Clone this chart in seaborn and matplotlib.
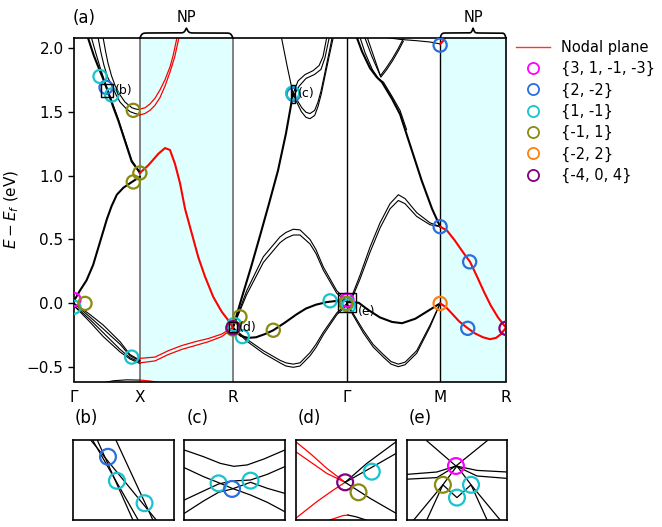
import numpy as np
import matplotlib
matplotlib.use('Agg')
import matplotlib.pyplot as plt
import seaborn as sns
from matplotlib.patches import Rectangle
from matplotlib.lines import Line2D

# ---------------- high-symmetry path ----------------
k_ticks = [0.0, 1.0, 2.414, 4.146, 5.560, 6.560]
k_labels = ['Γ', 'X', 'R', 'Γ', 'M', 'R']
np_regions = [(1.0, 2.414), (5.560, 6.560)]

# ---------------- bands (k, E) ----------------
# Gamma - X (black)
A_k = [0, 0.09, 0.19, 0.29, 0.395, 0.50, 0.57, 0.65, 0.75, 0.88, 1.0]
A_E = [0.02, 0.10, 0.18, 0.30, 0.48, 0.66, 0.76, 0.85, 0.905, 0.95, 0.99]
B1_k = [0.217, 0.30, 0.369, 0.44, 0.506, 0.60, 0.673, 0.749, 0.876, 0.976, 1.0]
B1_E = [2.07, 1.94, 1.85, 1.76, 1.67, 1.53, 1.43, 1.31, 1.11, 1.04, 1.02]
B2_k = [0.269, 0.33, 0.40, 0.47, 0.53, 0.60, 0.673, 0.749, 0.876, 0.976, 1.0]
B2_E = [2.07, 1.96, 1.84, 1.73, 1.645, 1.545, 1.44, 1.32, 1.12, 1.045, 1.025]
C1_k = [0.445, 0.48, 0.516, 0.57, 0.623, 0.70, 0.774, 0.881, 0.94, 1.0]
C1_E = [2.07, 1.97, 1.88, 1.78, 1.705, 1.63, 1.575, 1.53, 1.52, 1.515]
C2_k = [0.369, 0.41, 0.456, 0.51, 0.573, 0.64, 0.699, 0.78, 0.85, 0.93, 1.0]
C2_E = [2.07, 1.96, 1.86, 1.77, 1.705, 1.63, 1.575, 1.53, 1.50, 1.485, 1.475]
D_k = [0, 0.09, 0.25, 0.445, 0.70, 0.85, 1.0]
D1a_E = [0.0, -0.03, -0.09, -0.17, -0.30, -0.40, -0.445]
D1b_E = [0.0, -0.04, -0.11, -0.20, -0.32, -0.41, -0.45]
D2a_E = [-0.02, -0.055, -0.13, -0.23, -0.36, -0.425, -0.46]
D2b_E = [-0.02, -0.065, -0.15, -0.26, -0.38, -0.435, -0.47]
F_k = [0.4, 0.6, 0.8, 1.0]
F_E = [-0.625, -0.605, -0.598, -0.60]

# X - R (nodal plane, red)
Fr_k = [1.0, 1.15, 1.3]
Fr_E = [-0.60, -0.607, -0.62]
R1_k = [1.0, 1.078, 1.154, 1.230, 1.306, 1.382, 1.458, 1.508, 1.560]
R1a_E = [1.52, 1.53, 1.56, 1.605, 1.67, 1.75, 1.85, 1.945, 2.07]
R1b_k = [1.0, 1.078, 1.154, 1.230, 1.306, 1.382, 1.458, 1.53, 1.59]
R1b_E = [1.475, 1.485, 1.51, 1.55, 1.61, 1.70, 1.81, 1.93, 2.07]
R2_k = [1.0, 1.128, 1.280, 1.382, 1.458, 1.534, 1.610, 1.686, 1.787, 1.888,
        1.989, 2.115, 2.243, 2.369, 2.414]
R2_E = [1.02, 1.08, 1.17, 1.215, 1.20, 1.09, 0.94, 0.74, 0.55, 0.36,
        0.21, 0.05, -0.065, -0.15, -0.19]
R3_k = [1.0, 1.230, 1.432, 1.636, 1.838, 2.040, 2.243, 2.369, 2.414]
R3a_E = [-0.43, -0.42, -0.37, -0.33, -0.30, -0.275, -0.24, -0.20, -0.19]
R3b_E = [-0.465, -0.45, -0.40, -0.36, -0.33, -0.30, -0.26, -0.21, -0.19]

# R - Gamma (black)
G1_k = [2.414, 2.551, 2.692, 2.825, 2.961, 3.098, 3.219, 3.326]
G1_E = [-0.19, 0.05, 0.29, 0.53, 0.78, 1.04, 1.33, 1.64]
G1u_k = [3.326, 3.402, 3.508, 3.629, 3.721, 3.781, 3.834]
G1u_E = [1.64, 1.74, 1.79, 1.82, 1.86, 1.93, 2.07]
G1v_k = [3.33, 3.42, 3.523, 3.65, 3.75, 3.81, 3.872]
G1v_E = [1.62, 1.70, 1.76, 1.79, 1.83, 1.92, 2.07]
G2_k = [3.154, 3.235, 3.326, 3.386, 3.452, 3.523, 3.584, 3.655, 3.705, 3.756,
        3.812, 3.857, 3.903, 3.933]
G2_E = [2.07, 1.86, 1.64, 1.57, 1.50, 1.455, 1.445, 1.47, 1.54, 1.64,
        1.78, 1.89, 2.0, 2.07]
G2v_k = [3.34, 3.40, 3.46, 3.523, 3.584, 3.655, 3.705, 3.75, 3.80, 3.84, 3.885, 3.915]
G2v_E = [1.64, 1.58, 1.53, 1.495, 1.485, 1.51, 1.575, 1.66, 1.78, 1.88, 1.99, 2.07]
G3_k = [2.414, 2.475, 2.536, 2.642, 2.764, 2.900, 3.027, 3.204, 3.382, 3.523,
        3.675, 3.837, 3.994, 4.146]
G3_E = [-0.19, -0.23, -0.255, -0.27, -0.265, -0.24, -0.21, -0.15, -0.085, -0.04,
        -0.01, 0.01, 0.02, 0.02]
G45_k = [2.414, 2.623, 2.875, 3.128, 3.219, 3.330, 3.432, 3.584, 3.675, 3.786, 3.989, 4.146]
G4a_E = [-0.19, -0.28, -0.37, -0.445, -0.465, -0.475, -0.465, -0.385, -0.32, -0.225, -0.075, 0.0]
G4b_E = [-0.19, -0.295, -0.39, -0.465, -0.49, -0.50, -0.49, -0.41, -0.345, -0.245, -0.09, -0.01]
G5a_E = [-0.19, 0.10, 0.365, 0.52, 0.555, 0.58, 0.575, 0.50, 0.42, 0.285, 0.10, 0.02]
G5b_E = [-0.19, 0.07, 0.32, 0.475, 0.51, 0.535, 0.535, 0.465, 0.39, 0.26, 0.08, 0.01]

# Gamma - M (black)
M1_k = [4.146, 4.393, 4.541, 4.697, 4.814, 4.925, 5.027, 5.204, 5.406, 5.560]
M1a_E = [0.0, -0.21, -0.32, -0.40, -0.455, -0.475, -0.46, -0.37, -0.17, 0.0]
M1b_E = [-0.01, -0.23, -0.34, -0.42, -0.475, -0.495, -0.48, -0.39, -0.185, 0.0]
M2_k = [4.146, 4.323, 4.465, 4.647, 4.829, 4.981, 5.183, 5.387, 5.560]
M2_E = [0.01, 0.005, -0.05, -0.11, -0.145, -0.155, -0.12, -0.055, 0.0]
M3_k = [4.146, 4.222, 4.343, 4.495, 4.647, 4.799, 4.925, 5.027, 5.204, 5.406, 5.560]
M3a_E = [0.02, 0.06, 0.22, 0.44, 0.63, 0.78, 0.85, 0.82, 0.71, 0.63, 0.60]
M3b_E = [0.0, 0.04, 0.19, 0.40, 0.59, 0.74, 0.805, 0.78, 0.68, 0.615, 0.60]
P_k = [4.302, 4.374, 4.495, 4.597, 4.677, 4.829, 4.951, 5.103, 5.280, 5.437, 5.560]
P_E = [2.07, 1.97, 1.84, 1.77, 1.73, 1.60, 1.48, 1.24, 0.96, 0.74, 0.60]
P2_k = [4.35, 4.42, 4.53, 4.62, 4.70, 4.829, 4.951, 5.05]
P2_E = [2.07, 1.96, 1.83, 1.76, 1.73, 1.62, 1.51, 1.36]
Q_k = [4.423, 4.525, 4.652, 4.738, 4.829, 4.92, 5.0]
Q_E = [2.07, 1.93, 1.78, 1.84, 1.91, 1.99, 2.07]
Q2_k = [4.46, 4.56, 4.66, 4.75, 4.84, 4.93, 5.0]
Q2_E = [2.07, 1.92, 1.77, 1.83, 1.90, 1.98, 2.05]
S_k = [4.75, 4.95, 5.2, 5.4, 5.56]
S_E = [2.08, 2.065, 2.055, 2.045, 2.03]

# M - R (nodal plane, red)
N1_k = [5.560, 5.664, 5.786, 5.907, 6.014, 6.120, 6.226, 6.332, 6.439, 6.560]
N1_E = [0.60, 0.57, 0.49, 0.40, 0.325, 0.21, 0.09, -0.02, -0.11, -0.19]
N2_k = [5.560, 5.649, 5.740, 5.847, 5.968, 6.090, 6.211, 6.317, 6.408, 6.484, 6.560]
N2_E = [0.0, -0.03, -0.08, -0.14, -0.19, -0.235, -0.265, -0.28, -0.27, -0.24, -0.19]
N3_k = [5.56, 5.60, 5.65]
N3_E = [2.03, 2.05, 2.09]

black_thin = [(D_k, D1a_E), (D_k, D1b_E), (D_k, D2a_E), (D_k, D2b_E),
              (C1_k, C1_E), (C2_k, C2_E), (B2_k, B2_E),
              (G1u_k, G1u_E), (G1v_k, G1v_E), (G2_k, G2_E), (G2v_k, G2v_E),
              (G45_k, G4a_E), (G45_k, G4b_E), (G45_k, G5a_E), (G45_k, G5b_E),
              (M1_k, M1a_E), (M1_k, M1b_E), (M3_k, M3a_E), (M3_k, M3b_E),
              (P2_k, P2_E), (Q_k, Q_E), (Q2_k, Q2_E), (S_k, S_E), (F_k, F_E)]
black_thick = [(A_k, A_E), (B1_k, B1_E), (G1_k, G1_E), (G3_k, G3_E),
               (M2_k, M2_E), (P_k, P_E)]
red_thin = [(R1_k, R1a_E), (R1b_k, R1b_E), (R3_k, R3a_E), (R3_k, R3b_E), (Fr_k, Fr_E)]
red_thick = [(R2_k, R2_E), (N1_k, N1_E), (N2_k, N2_E), (N3_k, N3_E)]

# ---------------- monopole-charge circles ----------------
charge_labels = ['{3, 1, -1, -3}', '{2, -2}', '{1, -1}', '{-1, 1}', '{-2, 2}', '{-4, 0, 4}']
charge_colors = ['magenta', '#2b6fdc', '#17c3cf', '#8a8a10', '#ff7f0e', '#800080']
pts_k = [
    [0.0, 4.146],
    [0.486, 3.33, 5.560, 5.560, 6.008, 5.979],
    [0.0, 0.395, 0.573, 0.876, 2.435, 2.556, 3.32, 3.888, 4.146, 4.17],
    [0.167, 0.90, 1.0, 0.90, 2.52, 2.414, 3.026, 4.13],
    [5.560],
    [2.414, 6.560],
]
pts_E = [
    [0.03, 0.025],
    [1.69, 1.635, 0.60, 2.02, 0.325, -0.195],
    [-0.03, 1.775, 1.63, -0.42, -0.165, -0.26, 1.645, 0.02, 0.0, -0.02],
    [0.0, 0.95, 1.02, 1.51, -0.105, -0.20, -0.21, 0.0],
    [0.0],
    [-0.19, -0.195],
]

# zoom boxes (center k, center E, width, height) and label heights
box_names = ['(b)', '(c)', '(d)', '(e)']
box_k = [0.506, 3.326, 2.419, 4.146]
box_E = [1.665, 1.64, -0.185, 0.006]
box_w = [0.18, 0.075, 0.12, 0.28]
box_h = [0.095, 0.14, 0.078, 0.143]
box_label_E = [1.665, 1.64, -0.185, -0.065]

# ---------------- inset data (local coordinates) ----------------
inset_b_lines = [([0.199, 0.649], [0.99, 0.0]), ([0.245, 0.596], [0.99, 0.0]),
                 ([0.182, 0.828], [0.99, 0.0]), ([0.430, 0.795], [0.99, 0.0])]
inset_b_pts = [(0.348, 0.79, 1), (0.437, 0.49, 2), (0.712, 0.21, 2)]

c_x = [0, 0.191, 0.341, 0.475, 0.659, 0.826, 1]
inset_c_lines = [([0, 0.19, 0.358, 0.492, 0.625, 0.793, 1], [0.875, 0.792, 0.708, 0.671, 0.688, 0.763, 0.875]),
                 (c_x, [0.654, 0.542, 0.467, 0.396, 0.3125, 0.221, 0.104]),
                 (c_x, [0.25, 0.3625, 0.45, 0.4875, 0.50, 0.571, 0.667]),
                 (c_x, [0.083, 0.2375, 0.346, 0.3875, 0.471, 0.396, 0.333])]
inset_c_pts = [(0.341, 0.458, 2), (0.475, 0.388, 1), (0.659, 0.492, 2)]

inset_d_red = [([0, 0.143, 0.309, 0.492], [0.979, 0.833, 0.646, 0.471]),
               ([0, 0.143, 0.309, 0.492], [0.854, 0.729, 0.583, 0.471]),
               ([0, 0.21, 0.375, 0.492], [0.021, 0.229, 0.375, 0.471]),
               ([0.34, 0.47, 0.52], [0.0, 0.055, 0.062])]
inset_d_black = [([0.492, 0.708, 1], [0.471, 0.708, 0.979]),
                 ([0.492, 0.74, 1], [0.471, 0.646, 0.833]),
                 ([0.492, 0.74, 1], [0.471, 0.271, 0.083]),
                 ([0.52, 0.6, 0.70], [0.062, 0.04, 0.0])]
inset_d_pts = [(0.492, 0.471, 5), (0.625, 0.346, 3), (0.757, 0.604, 2)]

inset_e_lines = [([0.2, 0.49, 0.8], [0.99, 0.675, 0.99]),
                 ([0.0, 0.3, 0.49, 0.7, 1.0], [0.57, 0.6, 0.675, 0.62, 0.60]),
                 ([0.0, 0.3, 0.49, 0.7, 1.0], [0.51, 0.53, 0.675, 0.55, 0.52]),
                 ([0.07, 0.36, 0.5, 0.64, 0.93], [0.0, 0.44, 0.675, 0.44, 0.0]),
                 ([0.2, 0.36, 0.5, 0.64, 0.8], [0.0, 0.44, 0.28, 0.44, 0.0])]
inset_e_pts = [(0.49, 0.675, 0), (0.36, 0.44, 3), (0.5, 0.28, 2), (0.64, 0.44, 2)]

# ---------------- figure ----------------
W, H = 662, 527
fig = plt.figure(figsize=(W / 100, H / 100), dpi=100)
ax = fig.add_axes([74 / W, 1 - 381.5 / H, 432 / W, 343.5 / H])

for (a, b) in np_regions:
    ax.axvspan(a, b, facecolor='#e0ffff', edgecolor='none', zorder=0)
for kt in k_ticks[1:-1]:
    c = 'gray' if kt in (1.0, 2.414) else 'black'
    ax.axvline(kt, color=c, lw=1.4 if c == 'gray' else 1.0, zorder=1)


def draw(axx, k, e, color, lw):
    sns.lineplot(x=k, y=e, ax=axx, color=color, lw=lw, sort=False,
                 estimator=None, legend=False, zorder=2)


for k, e in black_thin:
    draw(ax, k, e, 'black', 0.8)
for k, e in black_thick:
    draw(ax, k, e, 'black', 1.5)
for k, e in red_thin:
    draw(ax, k, e, 'red', 0.9)
for k, e in red_thick:
    draw(ax, k, e, 'red', 1.5)

for lab, c, kk, ee in zip(charge_labels, charge_colors, pts_k, pts_E):
    sns.scatterplot(x=kk, y=ee, ax=ax, marker='o', s=90, color=c,
                    facecolor='none', edgecolor=c, linewidth=1.6, zorder=5,
                    legend=False)

for nm, bk, be, bw, bh, le in zip(box_names, box_k, box_E, box_w, box_h, box_label_E):
    ax.add_patch(Rectangle((bk - bw / 2, be - bh / 2), bw, bh, fill=False,
                           ec='black', lw=1.0, zorder=6))
    ax.text(bk + bw / 2 + 0.03, le, nm, fontsize=9, va='center', ha='left', zorder=7)

ax.set_xlim(0, 6.560)
ax.set_ylim(-0.611, 2.076)
ax.set_xticks(k_ticks)
ax.set_xticklabels(k_labels, fontsize=11)
ax.tick_params(axis='x', length=0, pad=6)
ax.set_yticks([-0.5, 0.0, 0.5, 1.0, 1.5, 2.0])
ax.tick_params(axis='y', labelsize=11, length=4, width=1)
ax.set_ylabel('$E - E_f$ (eV)', fontsize=11, labelpad=4)
for sp in ax.spines.values():
    sp.set_linewidth(1.2)
ax.set_xlabel('')

# braces
trans = ax.get_xaxis_transform()
px_y = 1 / 343.5
for (a, b) in np_regions:
    kk = np.linspace(a, b, 400)
    beta = 60.0 / (b - a) * 1.4
    mid = 0.5 * (a + b)
    left = kk <= mid
    yy = np.where(left,
                  1 / (1 + np.exp(-beta * (kk - a))) + 1 / (1 + np.exp(-beta * (kk - mid))),
                  1 / (1 + np.exp(-beta * (b - kk))) + 1 / (1 + np.exp(-beta * (mid - kk))))
    yy = 1.0 + (yy - 0.5) * 10 * px_y
    ax.plot(kk, yy, color='black', lw=1.2, transform=trans, clip_on=False)
    ax.text(mid, 1.0 + 20 * px_y, 'NP', transform=trans, ha='center', va='center', fontsize=10.5)

fig.text(73 / W, 1 - 18 / H, '(a)', fontsize=12, va='center', ha='left')

# legend
handles = [Line2D([], [], color='red', lw=1.0, alpha=0.8)]
for c in charge_colors:
    handles.append(Line2D([], [], ls='none', marker='o', ms=8, mfc='none', mec=c, mew=1.3))
fig.legend(handles, ['Nodal plane'] + charge_labels, loc='upper left',
           bbox_to_anchor=(516 / W, 1 - 40 / H), frameon=False, fontsize=10.5,
           handlelength=2.3, handletextpad=0.8, labelspacing=0.42, borderaxespad=0,
           borderpad=0)

# insets
inset_left = [73, 184.3, 295.7, 406.7]
inset_axes = []
for i, lx in enumerate(inset_left):
    ia = fig.add_axes([lx / W, 1 - 520 / H, 100.5 / W, 80 / H])
    ia.set_xlim(0, 1)
    ia.set_ylim(0, 1)
    ia.set_xticks([])
    ia.set_yticks([])
    for sp in ia.spines.values():
        sp.set_linewidth(1.2)
    fig.text((lx + 2) / W, 1 - 418 / H, box_names[i], fontsize=12, va='center', ha='left')
    inset_axes.append(ia)


def inset_pts(ia, pts):
    for x, y, ci in pts:
        sns.scatterplot(x=[x], y=[y], ax=ia, marker='o', s=130, color=charge_colors[ci],
                        facecolor='none', edgecolor=charge_colors[ci], linewidth=1.6,
                        zorder=5, legend=False)


for x, y in inset_b_lines:
    draw(inset_axes[0], x, y, 'black', 0.9)
inset_pts(inset_axes[0], inset_b_pts)
for x, y in inset_c_lines:
    draw(inset_axes[1], x, y, 'black', 0.9)
inset_pts(inset_axes[1], inset_c_pts)
for x, y in inset_d_red:
    draw(inset_axes[2], x, y, 'red', 0.9)
for x, y in inset_d_black:
    draw(inset_axes[2], x, y, 'black', 0.9)
inset_pts(inset_axes[2], inset_d_pts)
for x, y in inset_e_lines:
    draw(inset_axes[3], x, y, 'black', 0.9)
inset_pts(inset_axes[3], inset_e_pts)
for ia in inset_axes:
    ia.set_xlim(0, 1)
    ia.set_ylim(0, 1)
    ia.set_xlabel('')
    ia.set_ylabel('')

fig.savefig('out.png', dpi=100)
